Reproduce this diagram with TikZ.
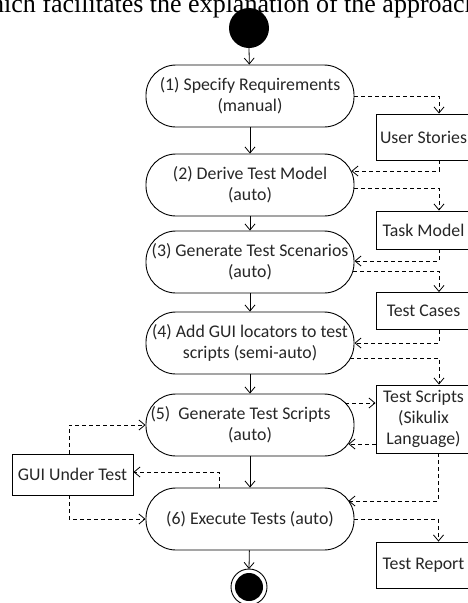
\documentclass[tikz,border=0pt]{standalone}
\usepackage{fontspec}
\setmainfont{Carlito}
\newfontfamily\bodyserif{Liberation Serif}
\usetikzlibrary{arrows.meta}

\begin{document}
\begin{tikzpicture}[x=1pt,y=-1pt,
    every node/.style={text=black!85},
    act/.style={draw, rectangle, rounded corners=30pt, minimum width=208pt, minimum height=62pt,
      inner sep=0pt, align=center, font=\fontsize{17.8}{21}\selectfont, line width=0.9pt},
    artefact/.style={draw, rectangle, minimum width=95pt, align=center,
      font=\fontsize{17.8}{21}\selectfont, line width=0.9pt},
    flow/.style={line width=0.8pt, -{Straight Barb[length=6pt,width=10pt]}},
    dataflow/.style={flow, dash pattern=on 4pt off 3pt}]
  \useasboundingbox (0,0) rectangle (468,603);
  \clip (0,0) rectangle (468,603);
  \node[anchor=base, font=\bodyserif\fontsize{26}{30}\selectfont, text=black] (txt) at (225,12)
    {which facilitates the explanation of the approach};
  \fill (249,28) circle (20pt);
  \coordinate (start) at (249,48);
  \node[act] (a1) at (250,96) {(1) Specify Requirements\\(manual)};
  \node[act] (a2) at (250,185) {(2) Derive Test Model\\(auto)};
  \node[act] (a3) at (250,262) {(3) Generate Test Scenarios\\(auto)};
  \node[act] (a4) at (250,343) {(4) Add GUI locators to test\\scripts (semi-auto)};
  \node[act] (a5) at (250,425) {(5)\ \ Generate Test Scripts\kern19pt\\(auto)};
  \node[act] (a6) at (250,519) {(6) Execute Tests (auto)};
  \draw[line width=0.9pt] (249,587) circle (18pt);
  \fill (249,587) circle (14pt);
  \coordinate (stop) at (249,569);
  \node[artefact, minimum height=46pt] (us) at (423.5,137) {User Stories};
  \node[artefact, minimum height=38pt] (tm) at (423.5,230) {Task Model};
  \node[artefact, minimum height=37pt] (tc) at (423.5,311) {Test Cases};
  \node[artefact, minimum height=68pt, inner sep=1pt] (ts) at (423.5,419) {Test Scripts\\(Sikulix\\Language)};
  \node[artefact, minimum height=46pt] (tr) at (423.5,565) {Test Report};
  \node[artefact, minimum width=121pt, minimum height=41pt] (gui) at (72.5,474.5) {GUI Under Test};
  \draw[flow] (start) -- (a1);
  \draw[flow] (a1) -- (a2);
  \draw[flow] (a2) -- (a3);
  \draw[flow] (a3) -- (a4);
  \draw[flow] (a4) -- (a5);
  \draw[flow] (a5) -- (a6);
  \draw[flow] (a6) -- (stop);
  \draw[dataflow] (a1.east) -| ([xshift=15.5pt]us.north);
  \draw[dataflow] ([xshift=15.5pt]us.south) |- ([xshift=-3pt,yshift=14pt]a2.east);
  \draw[dataflow] ([yshift=-3pt]a2.east) -| ([xshift=15.5pt]tm.north);
  \draw[dataflow] ([xshift=15.5pt]tm.south) |- ([yshift=1pt]a3.east);
  \draw[dataflow] ([xshift=-1pt,yshift=-9pt]a3.east) -| ([xshift=15.5pt]tc.north);
  \draw[dataflow] ([xshift=15.5pt]tc.south) |- (a4.east);
  \draw[dataflow] ([xshift=-4pt,yshift=-15pt]a4.east) -| ([xshift=15.5pt]ts.north);
  \draw[dataflow] ([xshift=-9pt,yshift=22pt]a5.east) -- ([yshift=16pt]ts.west);
  \draw[dataflow] ([yshift=-25pt]ts.west) -- ([xshift=-6pt,yshift=-19pt]a5.east);
  \draw[dataflow] ([xshift=15pt]ts.south) |- ([xshift=-6pt,yshift=18pt]a6.east);
  \draw[dataflow] (a6.east) -| ([xshift=15pt]tr.north);
  \draw[dataflow] ([xshift=-3.5pt]gui.north) |- (a5.west);
  \draw[dataflow] ([xshift=-31pt]a6.north) |- ([yshift=2.5pt]gui.east);
  \draw[dataflow] ([xshift=-3.5pt]gui.south) |- (a6.west);
\end{tikzpicture}
\end{document}
